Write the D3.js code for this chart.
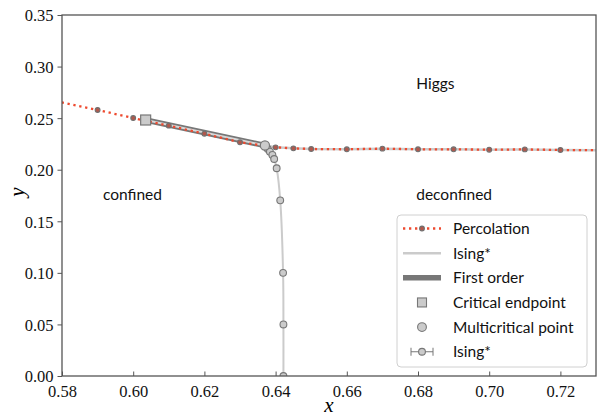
<!DOCTYPE html>
<html><head><meta charset="utf-8">
<script src="https://cdn.jsdelivr.net/npm/d3@7"></script>
<style>body{margin:0;background:#fff}svg{display:block}</style>
</head><body>
<svg id="c" width="598" height="417"></svg>
<script>
// ---- data ----
const percX = [0.57, 0.59, 0.60, 0.61, 0.62, 0.63, 0.64, 0.645, 0.65, 0.66, 0.67, 0.68, 0.69, 0.70, 0.71, 0.72, 0.74];
const percY = [0.2725, 0.2579, 0.2501, 0.2427, 0.2349, 0.2266, 0.2217, 0.2207, 0.2201, 0.2198, 0.2204, 0.2198, 0.2198, 0.2194, 0.2197, 0.2191, 0.2187];
const firstX = [0.6035, 0.6370];
const firstY = [0.2482, 0.2235];
const critX = [0.6035], critY = [0.2482];
const multiX = [0.6370], multiY = [0.2235];
const isingX = [0.6378, 0.6384, 0.6391, 0.6396, 0.6403, 0.6413, 0.6421, 0.6422, 0.6422];
const isingY = [0.2201, 0.2175, 0.2143, 0.2104, 0.2014, 0.1703, 0.10, 0.05, 0.00];
const isingErr = [0.0002, 0.0002, 0.0002, 0.0002, 0.0002, 0.0002, 0.0002, 0.0002, 0.0002];
const xTicks = [0.58, 0.60, 0.62, 0.64, 0.66, 0.68, 0.70, 0.72];
const yTicks = [0.00, 0.05, 0.10, 0.15, 0.20, 0.25, 0.30, 0.35];
const regionLabels = [{t:"Higgs", x:0.6795, y:0.278}, {t:"confined", x:0.5915, y:0.171}, {t:"deconfined", x:0.6795, y:0.171}];
const legendItems = ["Percolation", "Ising*", "First order", "Critical endpoint", "Multicritical point", "Ising*"];

const RED = "#ee4a2f", DARK = "#777777", LIGHT = "#cbcbcb", AX = "#555555";
const L = 62, R = 596, T = 15, B = 376;
const svg = d3.select("#c");
const x = d3.scaleLinear().domain([0.58, 0.73]).range([L, R]);
const y = d3.scaleLinear().domain([0, 0.35]).range([B, T]);

svg.append("defs").append("clipPath").attr("id","clip")
  .append("rect").attr("x",L).attr("y",T).attr("width",R-L).attr("height",B-T);
const g = svg.append("g").attr("clip-path","url(#clip)");
const line = d3.line().x(d=>x(d[0])).y(d=>y(d[1]));

// first order line (dark) with light interior
const firstPts = firstX.map((v,i)=>[v, firstY[i]]);
g.append("path").attr("d", line(firstPts)).attr("fill","none").attr("stroke",DARK).attr("stroke-width",5.5);
g.append("path").attr("d", line(firstPts)).attr("fill","none").attr("stroke","#d8d8d8").attr("stroke-width",2);

// Ising* light line along percolation right of multicritical point
const rightPts = [[multiX[0], multiY[0]]].concat(percX.map((v,i)=>[v,percY[i]]).filter(d=>d[0]>multiX[0]));
g.append("path").attr("d", line(rightPts)).attr("fill","none").attr("stroke",LIGHT).attr("stroke-width",2.5);
// Ising* line down to y=0
const downPts = [[multiX[0], multiY[0]]].concat(isingX.map((v,i)=>[v,isingY[i]]));
g.append("path").attr("d", line.curve(d3.curveCatmullRom)(downPts)).attr("fill","none").attr("stroke",LIGHT).attr("stroke-width",2);
line.curve(d3.curveLinear);

// Percolation
const percPts = percX.map((v,i)=>[v,percY[i]]);
g.append("path").attr("d", line(percPts)).attr("fill","none").attr("stroke",RED)
  .attr("stroke-width",2.3).attr("stroke-dasharray","2.3,3.7");
g.selectAll(".pm").data(percPts).enter().append("circle")
  .attr("cx",d=>x(d[0])).attr("cy",d=>y(d[1])).attr("r",2.4)
  .attr("fill","#b0584c").attr("stroke","#707070").attr("stroke-width",1.1);

// Ising* points with error bars
isingX.forEach((v,i)=>{
  const cy = y(isingY[i]);
  g.append("line").attr("x1",x(v-isingErr[i])).attr("x2",x(v+isingErr[i])).attr("y1",cy).attr("y2",cy)
    .attr("stroke",DARK).attr("stroke-width",1);
});
g.selectAll(".im").data(isingX).enter().append("circle")
  .attr("cx",d=>x(d)).attr("cy",(d,i)=>y(isingY[i])).attr("r",3.4)
  .attr("fill",LIGHT).attr("stroke",DARK).attr("stroke-width",1.1);

// critical endpoint
g.selectAll(".ce").data(critX).enter().append("rect")
  .attr("x",d=>x(d)-5).attr("y",(d,i)=>y(critY[i])-5).attr("width",10).attr("height",10)
  .attr("fill",LIGHT).attr("stroke",DARK).attr("stroke-width",1.2);
// multicritical
g.selectAll(".mc").data(multiX).enter().append("circle")
  .attr("cx",d=>x(d)).attr("cy",(d,i)=>y(multiY[i])).attr("r",4.6)
  .attr("fill",LIGHT).attr("stroke",DARK).attr("stroke-width",1.2);

// region labels
svg.selectAll(".rl").data(regionLabels).enter().append("text")
  .attr("x",d=>x(d.x)).attr("y",d=>y(d.y))
  .attr("font-family","Lato, 'DejaVu Sans', sans-serif").attr("font-size",15.5).attr("fill","#111")
  .text(d=>d.t);

// axes
const xAxis = d3.axisBottom(x).tickValues(xTicks).tickFormat(d3.format(".2f")).tickSizeInner(-4.5).tickSizeOuter(0).tickPadding(9);
const yAxis = d3.axisLeft(y).tickValues(yTicks).tickFormat(d3.format(".2f")).tickSizeInner(4.5).tickSizeOuter(0).tickPadding(4);
const gx = svg.append("g").attr("transform",`translate(0,${B})`).call(xAxis);
const gy = svg.append("g").attr("transform",`translate(${L},0)`).call(yAxis);
[gx,gy].forEach(a=>{
  a.select(".domain").remove();
  a.selectAll(".tick line").attr("stroke",AX).attr("stroke-width",1);
  a.selectAll("text").attr("font-family","'Liberation Serif', 'DejaVu Serif', serif").attr("font-size",16.5).attr("fill","#111");
});
gy.selectAll("text").attr("dy","0.36em");
svg.append("rect").attr("x",L).attr("y",T).attr("width",R-L).attr("height",B-T)
  .attr("fill","none").attr("stroke",AX).attr("stroke-width",1.3);

svg.append("text").attr("x",(L+R)/2).attr("y",412).attr("text-anchor","middle")
  .attr("font-family","'Liberation Serif', serif").attr("font-style","italic").attr("font-size",21).text("x");
svg.append("text").attr("transform","translate(24,192) rotate(-90)").attr("text-anchor","middle")
  .attr("font-family","'Liberation Serif', serif").attr("font-style","italic").attr("font-size",21).text("y");

// legend
const lg = svg.append("g");
lg.append("rect").attr("x",397).attr("y",215).attr("width",190).attr("height",152).attr("rx",4)
  .attr("fill","#fff").attr("fill-opacity",0.8).attr("stroke","#d0d0d0").attr("stroke-width",1);
const ly0 = 228.5, ldy = 24.65, hx0 = 403, hx1 = 441, hc = 422, tx = 453;
legendItems.forEach((t,i)=>{
  const yy = ly0 + i*ldy;
  lg.append("text").attr("x",tx).attr("y",yy).attr("dy","0.36em")
    .attr("font-family","Lato, 'DejaVu Sans', sans-serif").attr("font-size",15.5).attr("fill","#111").text(t);
  if(i===0){
    lg.append("line").attr("x1",hx0).attr("x2",hx1).attr("y1",yy).attr("y2",yy).attr("stroke",RED)
      .attr("stroke-width",2.3).attr("stroke-dasharray","2.3,3.7");
    lg.append("circle").attr("cx",hc).attr("cy",yy).attr("r",2.4).attr("fill","#b0584c").attr("stroke","#707070").attr("stroke-width",1.1);
  } else if(i===1){
    lg.append("line").attr("x1",hx0).attr("x2",hx1).attr("y1",yy).attr("y2",yy).attr("stroke",LIGHT).attr("stroke-width",2.5);
  } else if(i===2){
    lg.append("line").attr("x1",hx0).attr("x2",hx1).attr("y1",yy).attr("y2",yy).attr("stroke",DARK).attr("stroke-width",5.5);
  } else if(i===3){
    lg.append("rect").attr("x",hc-4.5).attr("y",yy-4.5).attr("width",9).attr("height",9).attr("fill",LIGHT).attr("stroke",DARK).attr("stroke-width",1.1);
  } else if(i===4){
    lg.append("circle").attr("cx",hc).attr("cy",yy).attr("r",4.4).attr("fill",LIGHT).attr("stroke",DARK).attr("stroke-width",1.1);
  } else {
    lg.append("line").attr("x1",hc-11).attr("x2",hc+11).attr("y1",yy).attr("y2",yy).attr("stroke",DARK).attr("stroke-width",1);
    [hc-11,hc+11].forEach(cx=>lg.append("line").attr("x1",cx).attr("x2",cx).attr("y1",yy-4).attr("y2",yy+4).attr("stroke",DARK).attr("stroke-width",1));
    lg.append("circle").attr("cx",hc).attr("cy",yy).attr("r",3.4).attr("fill",LIGHT).attr("stroke",DARK).attr("stroke-width",1.1);
  }
});
</script>
</body></html>
